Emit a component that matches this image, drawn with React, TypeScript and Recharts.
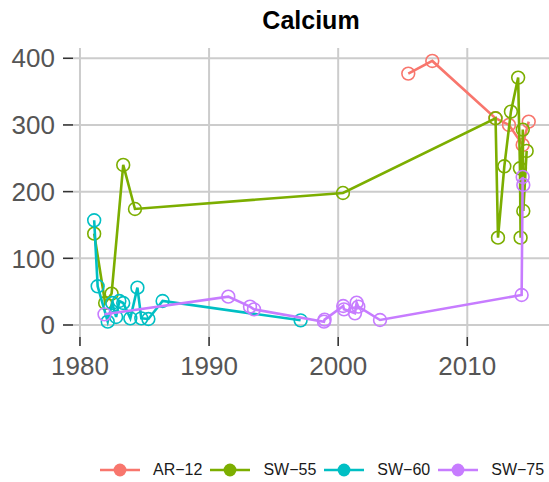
import { CartesianGrid, Scatter, ScatterChart, XAxis, YAxis } from 'recharts'

// Calcium by year, one pair of arrays per station
const ar12Years = [2005.43, 2007.29, 2012.18, 2013.23, 2014.29, 2014.76]
const ar12Calcium = [377, 396, 310, 300, 270, 305]

const sw55Years = [
  1981.1, 1981.95, 1982.45, 1983.35, 1984.26, 2000.37, 2012.19, 2012.38, 2012.87, 2013.38,
  2013.94, 2014.08, 2014.13, 2014.3, 2014.34, 2014.6,
]
const sw55Calcium = [137, 33, 47, 240, 174, 198, 310, 131, 238, 320, 371, 235, 131, 293, 171, 261]

const sw60Years = [
  1981.1, 1981.37, 1982.15, 1982.5, 1982.8, 1983.05, 1983.35, 1983.9, 1984.45, 1984.75, 1985.3,
  1986.4, 1997.09,
]
const sw60Calcium = [157, 58, 5, 33, 12, 36, 33, 10, 56, 10, 9, 36, 7]

const sw75Years = [
  1981.9, 1991.49, 1993.17, 1993.48, 1998.9, 1998.95, 2000.39, 2000.45, 2001.3, 2001.43, 2001.56,
  2003.24, 2014.21, 2014.29, 2014.34,
]
const sw75Calcium = [16, 42.5, 27.5, 23.5, 5, 8, 28.5, 23.5, 17.5, 33.5, 27.5, 7.5, 45, 222, 210]

const seriesNames = ['AR−12', 'SW−55', 'SW−60', 'SW−75']
const seriesColors = ['#F8766D', '#7CAE00', '#00BFC4', '#C77CFF']
const yearTicks = [1980, 1990, 2000, 2010]
const calciumTicks = [0, 100, 200, 300, 400]

const FONT = '"Liberation Sans", Arial, Helvetica, sans-serif'

function toPoints(years: number[], values: number[]) {
  return years.map((x, i) => ({ x, y: values[i] }))
}

const series = [
  toPoints(ar12Years, ar12Calcium),
  toPoints(sw55Years, sw55Calcium),
  toPoints(sw60Years, sw60Calcium),
  toPoints(sw75Years, sw75Calcium),
].map((data, i) => ({ name: seriesNames[i], color: seriesColors[i], data }))

function hollowCircle(color: string) {
  return (props: any) => (
    <circle cx={props.cx} cy={props.cy} r={6.4} fill="none" stroke={color} strokeWidth={1.6} />
  )
}

function LegendRow() {
  return (
    <div
      style={{
        position: 'absolute',
        top: 458,
        left: 100,
        display: 'flex',
        alignItems: 'center',
        fontSize: 16,
        color: '#1a1a1a',
        fontFamily: FONT,
      }}
    >
      {series.map((s) => (
        <span key={s.name} style={{ display: 'flex', alignItems: 'center', marginRight: 8 }}>
          <svg width={40} height={24}>
            <line x1={0} x2={40} y1={12} y2={12} stroke={s.color} strokeWidth={2.6} />
            <circle cx={20} cy={12} r={6.4} fill={s.color} />
          </svg>
          <span style={{ marginLeft: 13 }}>{s.name}</span>
        </span>
      ))}
    </div>
  )
}

export default function App() {
  return (
    <div
      style={{
        position: 'absolute',
        left: 0,
        top: 0,
        width: 549,
        height: 482,
        background: '#fff',
        fontFamily: FONT,
        overflow: 'hidden',
      }}
    >
      <div
        style={{
          position: 'absolute',
          top: 6,
          left: 73,
          width: 476,
          textAlign: 'center',
          fontSize: 25,
          fontWeight: 'bold',
          lineHeight: '28px',
          color: '#000',
        }}
      >
        Calcium
      </div>
      <ScatterChart width={549} height={482} margin={{ top: 48, right: 0, left: 0, bottom: 100 }}>
        <CartesianGrid
          stroke="#cccccc"
          strokeWidth={2}
          syncWithTicks
          horizontalValues={calciumTicks}
          verticalValues={yearTicks}
        />
        <XAxis
          type="number"
          dataKey="x"
          domain={[1979.46, 2016.33]}
          allowDataOverflow
          ticks={yearTicks}
          interval={0}
          height={45}
          tickSize={9}
          tickMargin={11}
          axisLine={false}
          tickLine={{ stroke: '#333', strokeWidth: 1.6 }}
          tick={{ fill: '#555', fontSize: 26, fontFamily: FONT }}
        />
        <YAxis
          type="number"
          dataKey="y"
          domain={[-18, 415.4]}
          allowDataOverflow
          ticks={calciumTicks}
          interval={0}
          width={73}
          tickSize={10}
          tickMargin={8}
          axisLine={false}
          tickLine={{ stroke: '#333', strokeWidth: 1.6 }}
          tick={{ fill: '#555', fontSize: 26, fontFamily: FONT }}
        />
        {series.map((s) => (
          <Scatter
            key={s.name}
            name={s.name}
            data={s.data}
            line={{ stroke: s.color, strokeWidth: 2.6 }}
            lineJointType="linear"
            shape={hollowCircle(s.color)}
            isAnimationActive={false}
          />
        ))}
      </ScatterChart>
      <LegendRow />
    </div>
  )
}
